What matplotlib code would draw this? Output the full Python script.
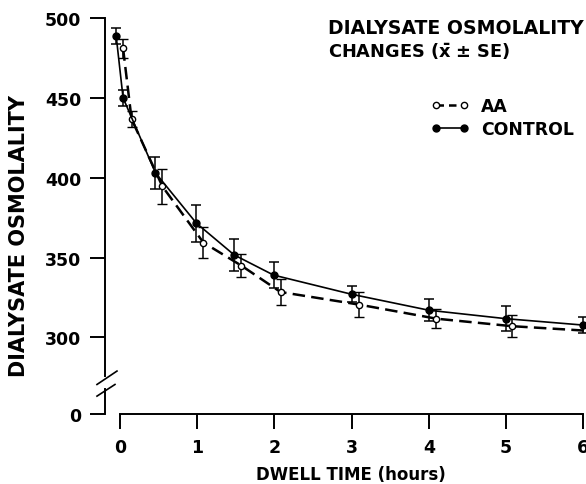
import numpy as np
import matplotlib
matplotlib.use("Agg")
import matplotlib.pyplot as plt
from matplotlib.lines import Line2D

plt.rcParams['font.family'] = ['DejaVu Sans']
plt.rcParams['font.weight'] = 'bold'
plt.rcParams['mathtext.fontset'] = 'dejavusans'
plt.rcParams['mathtext.default'] = 'bf'

# время (часы), точки сдвинуты как на рисунке
control_t = [-0.05, 0.04, 0.46, 0.99, 1.48, 1.99, 3.0, 4.0, 5.0, 6.0]
aa_t = [0.04, 0.15, 0.55, 1.08, 1.57, 2.08, 3.1, 4.1, 5.08, 6.1]

control_y = [489, 450, 403, 371.5, 351.6, 339, 327, 317, 311.7, 307.7]
control_se = [5, 5, 10, 11.5, 10, 8, 5, 7, 8, 5]
aa_y = [481, 436.7, 394.5, 359.4, 345, 328.4, 320.5, 311.7, 307, 304]
aa_se = [6, 5, 11, 9.5, 7, 8, 8, 6, 7, 5]

y_zero = 252  # положение "0" под разрывом оси
y_ticks = [y_zero, 300, 350, 400, 450, 500]
y_labels = ['0', '300', '350', '400', '450', '500']
x_ticks = [0, 1, 2, 3, 4, 5, 6]

W, H = 586, 485
fig = plt.figure(figsize=(W / 100, H / 100), dpi=100)
ax = fig.add_axes([0.1792, 0.1443, 0.8447, 0.8165])

# AA - пунктир, пустые кружки
ax.errorbar(aa_t, aa_y, yerr=aa_se, color='black', lw=1.8, dashes=(5, 2.5),
            marker='o', ms=4.5, mfc='white', mec='black', mew=1.0,
            ecolor='black', elinewidth=1.1, capsize=3.5, capthick=1.1, zorder=3)
# контроль - сплошная, закрашенные кружки
ax.errorbar(control_t, control_y, yerr=control_se, color='black', lw=1.2,
            marker='o', ms=5, mfc='black', mec='black',
            ecolor='black', elinewidth=1.1, capsize=3.5, capthick=1.1, zorder=4)

ax.set_xlim(-0.194, 6.218)
ax.set_ylim(y_zero, 500)
ax.set_xticks(x_ticks)
ax.set_xticklabels([str(t) for t in x_ticks])
ax.set_yticks(y_ticks)
ax.set_yticklabels(y_labels)

for s in ['top', 'right']:
    ax.spines[s].set_visible(False)
ax.spines['bottom'].set_bounds(0, 6)
ax.spines['left'].set_bounds(275.6, 500)
ax.spines['left'].set_linewidth(1.4)
ax.spines['bottom'].set_linewidth(1.4)
ax.tick_params(direction='out', length=11, width=1.4, labelsize=12.5, pad=6)

# нижний кусок оси и разрыв
ax.plot([-0.194, -0.194], [y_zero, 267.4], color='black', lw=1.4, clip_on=False)
ax.plot([-0.298, -0.039], [270.5, 278.9], color='black', lw=1.2, clip_on=False)
ax.plot([-0.298, -0.065], [263.2, 270.5], color='black', lw=1.2, clip_on=False)

# подписи осей
fig.text(351 / W, 1 - 475 / H, 'DWELL TIME (hours)', fontsize=12,
         fontweight='bold', ha='center', va='center')
fig.text(19 / W, 1 - 236 / H, 'DIALYSATE OSMOLALITY', fontsize=15,
         fontweight='bold', ha='center', va='center', rotation=90)

fig.text(328 / W, 1 - 28 / H, 'DIALYSATE OSMOLALITY', fontsize=13.6,
         fontweight='bold', va='center', ha='left')
fig.text(328 / W, 1 - 52 / H, r'CHANGES ($\bar{x}$ $\pm$ SE)', fontsize=12.8,
         fontweight='bold', va='center', ha='left')

handles = [
    Line2D([0], [0], color='black', lw=1.8, dashes=(3, 2), marker='o', ms=4.5,
           mfc='white', mec='black'),
    Line2D([0], [0], color='black', lw=1.2, marker='o', ms=5, mfc='black'),
]
fig.legend(handles, ['AA', 'CONTROL'], loc='upper left',
           bbox_to_anchor=(431 / W, 1 - 98 / H), frameon=False, numpoints=2,
           handlelength=2.2, handletextpad=0.7, labelspacing=0.3, borderpad=0,
           borderaxespad=0, prop={'size': 12.4, 'weight': 'bold'})

fig.savefig('out.png', dpi=100)
